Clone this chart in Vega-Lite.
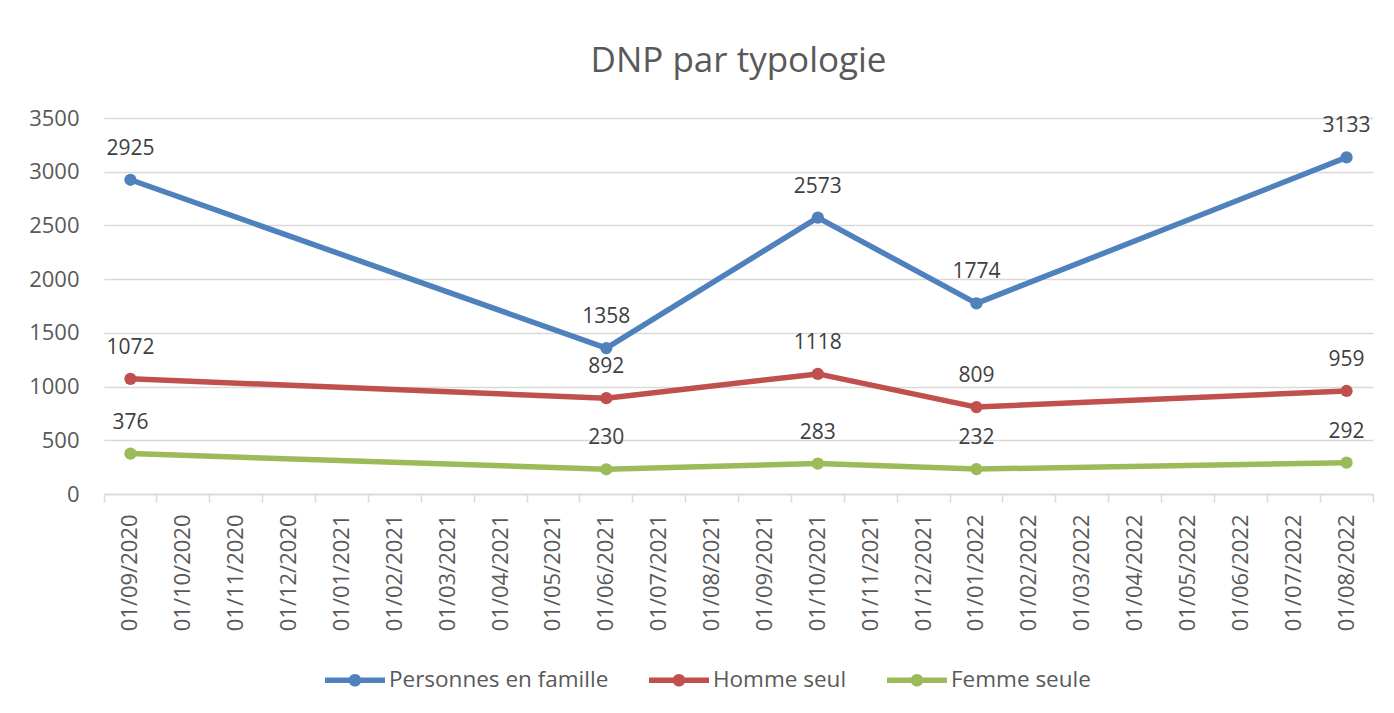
{
  "$schema": "https://vega.github.io/schema/vega-lite/v6.json",
  "autosize": {"type": "none"},
  "padding": {"left": 104, "top": 118, "right": 21, "bottom": 219},
  "width": 1269,
  "height": 376,
  "background": "white",
  "config": {
    "view": {"stroke": null},
    "font": "Open Sans"
  },
  "title": {
    "text": "DNP par typologie",
    "fontSize": 35,
    "fontWeight": "normal",
    "color": "#595959",
    "anchor": "middle",
    "offset": 28
  },
  "data": {
    "values": [
      {"date": "01/09/2020", "serie": "Personnes en famille", "valeur": 2925},
      {"date": "01/06/2021", "serie": "Personnes en famille", "valeur": 1358},
      {"date": "01/10/2021", "serie": "Personnes en famille", "valeur": 2573},
      {"date": "01/01/2022", "serie": "Personnes en famille", "valeur": 1774},
      {"date": "01/08/2022", "serie": "Personnes en famille", "valeur": 3133},
      {"date": "01/09/2020", "serie": "Homme seul", "valeur": 1072},
      {"date": "01/06/2021", "serie": "Homme seul", "valeur": 892},
      {"date": "01/10/2021", "serie": "Homme seul", "valeur": 1118},
      {"date": "01/01/2022", "serie": "Homme seul", "valeur": 809},
      {"date": "01/08/2022", "serie": "Homme seul", "valeur": 959},
      {"date": "01/09/2020", "serie": "Femme seule", "valeur": 376},
      {"date": "01/06/2021", "serie": "Femme seule", "valeur": 230},
      {"date": "01/10/2021", "serie": "Femme seule", "valeur": 283},
      {"date": "01/01/2022", "serie": "Femme seule", "valeur": 232},
      {"date": "01/08/2022", "serie": "Femme seule", "valeur": 292}
    ]
  },
  "encoding": {
    "x": {
      "field": "date",
      "type": "nominal",
      "sort": null,
      "scale": {
        "type": "band",
        "paddingInner": 0,
        "paddingOuter": 0,
        "domain": ["01/09/2020","01/10/2020","01/11/2020","01/12/2020","01/01/2021","01/02/2021","01/03/2021","01/04/2021","01/05/2021","01/06/2021","01/07/2021","01/08/2021","01/09/2021","01/10/2021","01/11/2021","01/12/2021","01/01/2022","01/02/2022","01/03/2022","01/04/2022","01/05/2022","01/06/2022","01/07/2022","01/08/2022"]
      },
      "axis": {
        "title": null,
        "labelAngle": 270,
        "labelFontSize": 22,
        "labelColor": "#595959",
        "labelPadding": 12,
        "domainColor": "#d9d9d9",
        "domainWidth": 1.5,
        "tickColor": "#d9d9d9",
        "tickWidth": 1.5,
        "tickSize": 8,
        "bandPosition": 1,
        "tickExtra": true,
        "grid": false
      }
    },
    "y": {
      "field": "valeur",
      "type": "quantitative",
      "scale": {"domain": [0, 3500], "nice": false},
      "axis": {
        "title": null,
        "values": [0, 500, 1000, 1500, 2000, 2500, 3000, 3500],
        "format": "d",
        "domain": false,
        "ticks": false,
        "tickSize": 0,
        "labelPadding": 25,
        "labelFontSize": 22,
        "labelColor": "#595959",
        "gridColor": "#d9d9d9",
        "gridWidth": 1.5
      }
    },
    "color": {
      "field": "serie",
      "type": "nominal",
      "scale": {
        "domain": ["Personnes en famille", "Homme seul", "Femme seule"],
        "range": ["#4F81BD", "#C0504D", "#9BBB59"]
      },
      "legend": {
        "title": null,
        "orient": "none",
        "legendX": 221,
        "legendY": 532,
        "direction": "horizontal",
        "labelFontSize": 22.5,
        "labelColor": "#595959",
        "labelLimit": 0,
        "labelOffset": 4,
        "columnPadding": 40,
        "symbolType": "M-1,-0.09H1V0.09H-1Z M-0.21,0A0.21,0.21 0 1,1 0.21,0A0.21,0.21 0 1,1 -0.21,0Z",
        "symbolSize": 3600,
        "symbolStrokeWidth": 0,
        "symbolOpacity": 1
      }
    }
  },
  "layer": [
    {"mark": {"type": "line", "strokeWidth": 5.5, "strokeCap": "round", "strokeJoin": "round"}},
    {"mark": {"type": "point", "filled": true, "size": 150, "opacity": 1}},
    {
      "mark": {"type": "text", "dy": -31, "fontSize": 21, "color": "#404040", "baseline": "middle"},
      "encoding": {
        "text": {"field": "valeur", "type": "quantitative"},
        "color": {"value": "#404040"}
      }
    }
  ]
}
